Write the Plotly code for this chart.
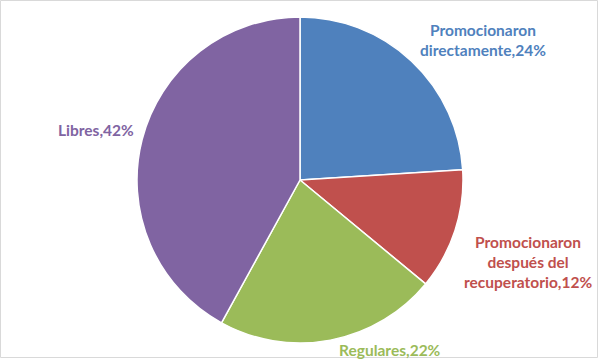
import plotly.graph_objects as go

labels = ["Promocionaron directamente", "Promocionaron después del recuperatorio", "Regulares", "Libres"]
values = [24, 12, 22, 42]
colors = ["#4F81BD", "#C0504D", "#9BBB59", "#8064A2"]
label_lines = ["Promocionaron<br>directamente,24%", "Promocionaron<br>después del<br>recuperatorio,12%",
               "Regulares,22%", "Libres,42%"]
label_pos = [(483, 40), (528, 262), (390, 350), (96, 130)]

W, H = 600, 360
cx, cy, r = 300, 180, 163

fig = go.Figure(go.Pie(
    labels=labels, values=values, sort=False, direction="clockwise", rotation=0,
    marker=dict(colors=colors, line=dict(color="white", width=1.5)),
    textinfo="none", hoverinfo="label+percent", showlegend=False,
    domain=dict(x=[(cx - r) / W, (cx + r) / W], y=[(H - cy - r) / H, (H - cy + r) / H]),
))

for txt, (px, py), col in zip(label_lines, label_pos, colors):
    fig.add_annotation(x=px / W, y=1 - py / H, xref="paper", yref="paper", text="<b>" + txt + "</b>",
                       xanchor="center", yanchor="middle",
                       showarrow=False, font=dict(family="Lato", size=15.5, color=col), align="center")

fig.add_shape(type="rect", xref="paper", yref="paper", x0=0.5 / W, x1=1 - 2.5 / W, y0=2.5 / H, y1=1 - 0.5 / H,
              line=dict(color="#D9D9D9", width=1))

fig.update_layout(width=W, height=H, margin=dict(l=0, r=0, t=0, b=0),
                  paper_bgcolor="white", plot_bgcolor="white")
fig.write_html("out.html")
